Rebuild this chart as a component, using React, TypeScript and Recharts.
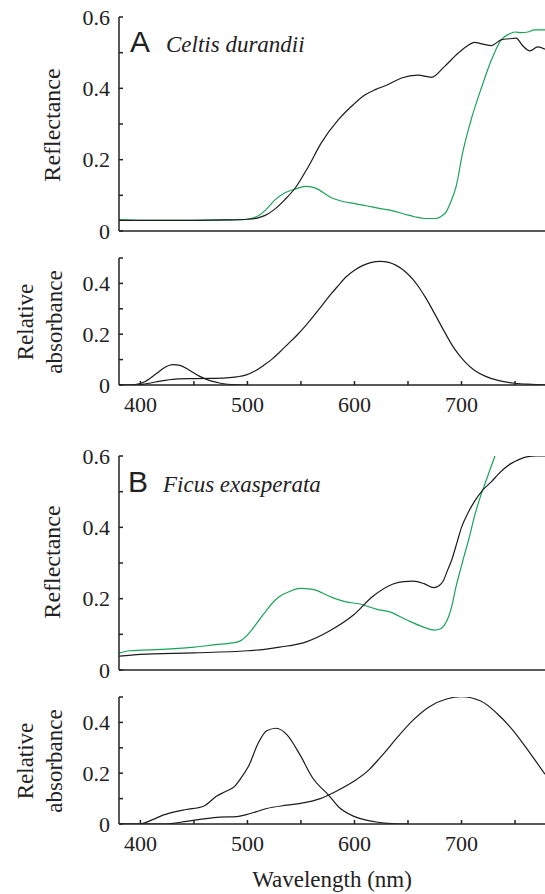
import React from 'react';
import { LineChart, Line, XAxis, YAxis } from 'recharts';

// ---------- Data ----------
// Panel A: Celtis durandii — reflectance
const celtisBlackNm = [380, 400, 450, 480, 500, 510, 516, 525, 535, 545, 557, 569, 585, 597, 610, 620, 631, 644, 659, 672, 684, 697, 705, 712, 720, 728, 737, 745, 751, 757, 764, 771, 778];
const celtisBlackR = [0.030, 0.030, 0.030, 0.031, 0.033, 0.037, 0.043, 0.060, 0.088, 0.122, 0.181, 0.247, 0.312, 0.349, 0.382, 0.397, 0.410, 0.429, 0.437, 0.431, 0.461, 0.499, 0.518, 0.529, 0.524, 0.520, 0.536, 0.539, 0.541, 0.520, 0.505, 0.516, 0.510];
const celtisGreenNm = [380, 400, 450, 490, 500, 505, 512, 518, 525, 535, 545, 554, 563, 578, 590, 600, 612, 622, 635, 647, 656, 666, 675, 681, 686, 689, 695, 701, 709, 719, 728, 737, 745, 750, 756, 762, 768, 778];
const celtisGreenR = [0.032, 0.030, 0.030, 0.031, 0.033, 0.036, 0.046, 0.062, 0.085, 0.107, 0.118, 0.125, 0.121, 0.094, 0.082, 0.077, 0.070, 0.064, 0.057, 0.047, 0.040, 0.035, 0.035, 0.041, 0.055, 0.075, 0.125, 0.219, 0.312, 0.405, 0.480, 0.536, 0.553, 0.558, 0.556, 0.558, 0.564, 0.564];
// Panel A: absorbance
const celtisAbs1Nm = [380, 395, 405, 420, 435, 450, 465, 480, 490, 499, 507, 515, 523, 530, 538, 546, 554, 561, 569, 577, 585, 592, 600, 608, 616, 624, 632, 639, 647, 655, 661, 667, 675, 684, 693, 703, 712, 722, 735, 750, 765, 778];
const celtisAbs1 = [0, 0, 0.005, 0.016, 0.024, 0.025, 0.026, 0.028, 0.032, 0.040, 0.055, 0.077, 0.102, 0.129, 0.162, 0.195, 0.232, 0.267, 0.31, 0.353, 0.392, 0.425, 0.452, 0.471, 0.483, 0.487, 0.483, 0.471, 0.448, 0.414, 0.38, 0.34, 0.28, 0.21, 0.145, 0.092, 0.058, 0.035, 0.017, 0.007, 0.003, 0.001];
const celtisAbs2Nm = [380, 395, 405, 415, 423, 430, 437, 445, 455, 465, 475, 490, 500];
const celtisAbs2 = [0, 0.002, 0.015, 0.045, 0.07, 0.08, 0.077, 0.06, 0.035, 0.017, 0.007, 0.001, 0];

// Panel B: Ficus exasperata — reflectance
const ficusBlackNm = [380, 400, 450, 500, 516, 530, 555, 577, 599, 617, 636, 646, 655, 665, 674, 679, 683, 687, 691, 696, 700, 706, 712, 720, 728, 734, 740, 747, 753, 762, 770, 778];
const ficusBlackR = [0.039, 0.044, 0.048, 0.054, 0.058, 0.064, 0.079, 0.11, 0.154, 0.206, 0.241, 0.248, 0.249, 0.242, 0.231, 0.236, 0.25, 0.28, 0.31, 0.36, 0.4, 0.44, 0.472, 0.505, 0.528, 0.548, 0.565, 0.58, 0.589, 0.598, 0.6, 0.6];
const ficusGreenNm = [380, 390, 420, 450, 470, 486, 493, 499, 506, 512, 518, 524, 530, 540, 549, 561, 577, 592, 605, 621, 633, 649, 664, 675, 680, 684, 688, 691, 695, 698, 702, 708, 712, 717, 722, 727, 731, 740, 760];
const ficusGreenR = [0.047, 0.054, 0.058, 0.064, 0.071, 0.076, 0.081, 0.095, 0.12, 0.145, 0.168, 0.19, 0.206, 0.221, 0.229, 0.226, 0.206, 0.191, 0.185, 0.17, 0.163, 0.14, 0.121, 0.112, 0.115, 0.126, 0.15, 0.18, 0.235, 0.27, 0.315, 0.38, 0.43, 0.48, 0.523, 0.565, 0.598, 0.67, 0.8];
// Panel B: absorbance
const ficusAbs1Nm = [380, 399, 412, 421, 434, 443, 459, 471, 480, 488, 493, 501, 510, 518, 527, 537, 549, 561, 576, 586, 599, 611, 622, 635, 650];
const ficusAbs1 = [0, 0, 0.018, 0.035, 0.05, 0.057, 0.07, 0.109, 0.129, 0.148, 0.175, 0.227, 0.318, 0.367, 0.377, 0.351, 0.273, 0.181, 0.113, 0.064, 0.031, 0.015, 0.007, 0.002, 0];
const ficusAbs2Nm = [380, 421, 443, 459, 474, 490, 499, 508, 518, 537, 552, 568, 583, 599, 614, 622, 630, 639, 655, 670, 686, 700, 718, 733, 749, 765, 778];
const ficusAbs2 = [0, 0, 0.01, 0.02, 0.027, 0.029, 0.037, 0.048, 0.061, 0.074, 0.083, 0.1, 0.129, 0.167, 0.215, 0.252, 0.29, 0.336, 0.41, 0.462, 0.492, 0.501, 0.484, 0.436, 0.364, 0.273, 0.196];

// Ticks
const xTicks = [400, 450, 500, 550, 600, 650, 700, 750];
const xLabelled = [400, 500, 600, 700];
const reflTicks = [0, 0.1, 0.2, 0.3, 0.4, 0.5, 0.6];
const absTicks = [0, 0.1, 0.2, 0.3, 0.4, 0.5];
const yLabelled = [0, 0.2, 0.4, 0.6];

const BLACK = '#1c1c1c';
const GREEN = '#1ba35a';
const SERIF = 'Liberation Serif';
const SANS = 'Liberation Sans';

const zip = (nm: number[], v: number[]) => nm.map((n, i) => ({ nm: n, v: v[i] }));

type Series = { data: { nm: number; v: number }[]; color: string };

function Panel(props: {
  top: number;
  height: number;
  marginTop: number;
  yMax: number;
  yTicks: number[];
  xLabels: boolean;
  series: Series[];
}) {
  const { top, height, marginTop, yMax, yTicks, xLabels, series } = props;
  const tickStyle = { fontSize: 22, fill: '#222', style: { fontFamily: SERIF } };
  return (
    <div style={{ position: 'absolute', left: 0, top, width: 545, height }}>
      <LineChart width={545} height={height} margin={{ top: marginTop, right: 0, bottom: 0, left: 59 }}>
        <XAxis
          xAxisId="b"
          type="number"
          dataKey="nm"
          domain={[380, 778]}
          allowDataOverflow
          ticks={xTicks}
          tickSize={-4}
          tickMargin={15}
          height={xLabels ? 35 : 20}
          tick={xLabels ? tickStyle : false}
          tickFormatter={(v: number) => (xLabelled.includes(v) ? String(v) : '')}
          stroke="#222"
          strokeWidth={1.5}
        />
        <XAxis
          xAxisId="t"
          orientation="top"
          type="number"
          dataKey="nm"
          domain={[380, 778]}
          allowDataOverflow
          ticks={xTicks}
          tickSize={-4}
          height={0}
          tick={false}
          stroke="#333"
          strokeWidth={1}
        />
        <YAxis
          type="number"
          domain={[0, yMax]}
          allowDataOverflow
          ticks={yTicks}
          width={60}
          tickSize={-4}
          tickMargin={13}
          tick={tickStyle}
          tickFormatter={(v: number) => (v === 0 ? '0' : yLabelled.includes(v) ? v.toFixed(1) : '')}
          stroke="#222"
          strokeWidth={1.5}
        />
        {series.map((s, i) => (
          <Line
            key={i}
            xAxisId="b"
            data={s.data}
            dataKey="v"
            type="monotone"
            stroke={s.color}
            strokeWidth={1.2}
            dot={false}
            activeDot={false}
            isAnimationActive={false}
          />
        ))}
      </LineChart>
    </div>
  );
}

const serifText = { fontFamily: SERIF } as React.CSSProperties;

export default function App() {
  return (
    <div style={{ position: 'absolute', left: 0, top: 0, width: 545, height: 894, background: '#fff' }}>
      <Panel
        top={0}
        height={251}
        marginTop={17}
        yMax={0.6}
        yTicks={reflTicks}
        xLabels={false}
        series={[
          { data: zip(celtisGreenNm, celtisGreenR), color: GREEN },
          { data: zip(celtisBlackNm, celtisBlackR), color: BLACK },
        ]}
      />
      <Panel
        top={240}
        height={180}
        marginTop={18}
        yMax={0.5}
        yTicks={absTicks}
        xLabels={true}
        series={[
          { data: zip(celtisAbs1Nm, celtisAbs1), color: BLACK },
          { data: zip(celtisAbs2Nm, celtisAbs2), color: BLACK },
        ]}
      />
      <Panel
        top={440}
        height={250}
        marginTop={16}
        yMax={0.6}
        yTicks={reflTicks}
        xLabels={false}
        series={[
          { data: zip(ficusGreenNm, ficusGreenR), color: GREEN },
          { data: zip(ficusBlackNm, ficusBlackR), color: BLACK },
        ]}
      />
      <Panel
        top={680}
        height={179}
        marginTop={17}
        yMax={0.5}
        yTicks={absTicks}
        xLabels={true}
        series={[
          { data: zip(ficusAbs1Nm, ficusAbs1), color: BLACK },
          { data: zip(ficusAbs2Nm, ficusAbs2), color: BLACK },
        ]}
      />
      <svg
        width={545}
        height={894}
        style={{ position: 'absolute', left: 0, top: 0, pointerEvents: 'none' }}
      >
        <text x={130} y={52} style={{ fontFamily: SANS }} fontSize={30} fill="#222">A</text>
        <text x={166} y={52} style={serifText} fontStyle="italic" fontSize={23} fill="#222">Celtis durandii</text>
        <text x={128} y={492} style={{ fontFamily: SANS }} fontSize={30} fill="#222">B</text>
        <text x={163} y={492} style={serifText} fontStyle="italic" fontSize={23} fill="#222">Ficus exasperata</text>

        <text x={60} y={125} transform="rotate(-90 60 125)" textAnchor="middle" style={serifText} fontSize={24} fill="#222">Reflectance</text>
        <text x={60} y={562} transform="rotate(-90 60 562)" textAnchor="middle" style={serifText} fontSize={24} fill="#222">Reflectance</text>

        <text x={33} y={322} transform="rotate(-90 33 322)" textAnchor="middle" style={serifText} fontSize={23} fill="#222">Relative</text>
        <text x={62} y={322} transform="rotate(-90 62 322)" textAnchor="middle" style={serifText} fontSize={23} fill="#222">absorbance</text>
        <text x={33} y={761} transform="rotate(-90 33 761)" textAnchor="middle" style={serifText} fontSize={23} fill="#222">Relative</text>
        <text x={62} y={761} transform="rotate(-90 62 761)" textAnchor="middle" style={serifText} fontSize={23} fill="#222">absorbance</text>

        <text x={332} y={887} textAnchor="middle" style={serifText} fontSize={23} fill="#222">Wavelength (nm)</text>
      </svg>
    </div>
  );
}
